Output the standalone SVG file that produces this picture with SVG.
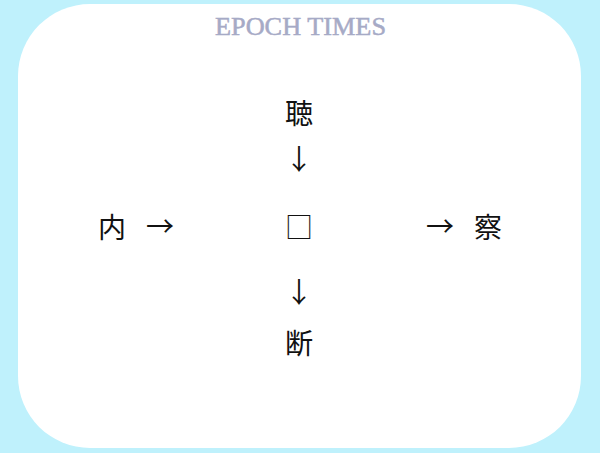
<svg xmlns="http://www.w3.org/2000/svg" width="600" height="453" viewBox="0 0 600 453">
<style>
.t{font-family:"Noto Sans CJK JP","Noto Sans CJK SC",sans-serif;font-size:28px;fill:#111;text-anchor:middle}
.logo{font-family:"Liberation Serif",serif;font-size:25px;fill:#a6aac6;stroke:#a6aac6;stroke-width:0.5;text-anchor:middle}
</style>
<rect x="0" y="0" width="600" height="453" fill="#bff1fc"/>
<rect x="18" y="4" width="563" height="444" rx="72" ry="72" fill="#ffffff"/>
<g id="logo"><text class="logo" x="300.5" y="34.5" textLength="171" lengthAdjust="spacingAndGlyphs">EPOCH TIMES</text></g>
<g id="n_top"><text class="t" x="299" y="124">聴</text></g>
<g id="n_left"><text class="t" x="112" y="238">内</text></g>
<g id="n_center"><text class="t" x="299" y="238">□</text></g>
<g id="n_right"><text class="t" x="488" y="238">察</text></g>
<g id="n_bottom"><text class="t" x="299" y="354">断</text></g>
<g id="connectors">
<text class="t" x="299" y="170">↓</text>
<text class="t" x="160" y="237">→</text>
<text class="t" x="440" y="237">→</text>
<text class="t" x="299" y="303">↓</text>
</g>
</svg>
